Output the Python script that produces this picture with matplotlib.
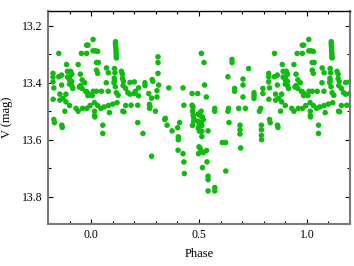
import matplotlib
matplotlib.use("Agg")
import matplotlib.pyplot as plt
import numpy as np
from matplotlib.ticker import MultipleLocator

# Phase-folded observations (phase in [0, 1)), V magnitude
phase = [
    # 0.0 - 0.2
    0.009, 0.985, 0.009, 0.020, 0.030, 0.025, 0.034, 0.025, 0.030, 0.071, 0.080,
    0.113, 0.113, 0.114, 0.115, 0.115, 0.116, 0.116, 0.117,
    0.108, 0.110, 0.107, 0.108, 0.106, 0.112,
    0.140, 0.145, 0.145, 0.150, 0.148, 0.200, 0.205, 0.200,
    0.025, 0.048, 0.079, 0.117, 0.125, 0.010, 0.005,
    0.015, 0.030, 0.045, 0.060, 0.080, 0.100, 0.120, 0.160, 0.185,
    0.016, 0.016, 0.017, 0.085, 0.147, 0.152, 0.054, 0.054,
    0.180, 0.160, 0.170, 0.180, 0.070,
    # 0.2 - 0.45
    0.249, 0.283, 0.286, 0.310, 0.310, 0.310, 0.313, 0.360, 0.426,
    0.220, 0.220, 0.267, 0.305, 0.305, 0.280, 0.216, 0.270, 0.272, 0.271, 0.430,
    0.298, 0.216, 0.240, 0.341, 0.352, 0.375, 0.401, 0.410,
    0.404, 0.404, 0.403, 0.426, 0.430, 0.432, 0.280, 0.250, 0.344,
    # 0.45 - 0.6
    0.468, 0.494, 0.468, 0.472, 0.470, 0.473, 0.475, 0.476, 0.470,
    0.495, 0.495, 0.500, 0.497, 0.502,
    0.498, 0.500, 0.505, 0.510, 0.520, 0.535,
    0.511, 0.523, 0.526, 0.534,
    0.510, 0.505, 0.515, 0.520, 0.510, 0.513, 0.513, 0.513,
    0.537, 0.516, 0.542, 0.542, 0.542, 0.573, 0.573,
    0.573, 0.542, 0.573,
    # 0.6 - 0.8
    0.608, 0.623, 0.624, 0.634, 0.639, 0.690, 0.690, 0.690, 0.693,
    0.789, 0.789, 0.789, 0.790, 0.780,
    0.653, 0.653, 0.730, 0.634, 0.704, 0.704,
    0.665, 0.665, 0.755, 0.755, 0.755, 0.796, 0.796, 0.704,
    0.637, 0.684, 0.715, 0.786,
    # 0.8 - 1.0
    0.827, 0.830, 0.827, 0.823, 0.823, 0.823, 0.850, 0.850, 0.824, 0.855,
    0.979, 0.955, 0.979, 0.886, 0.940, 0.863, 0.863,
    0.890, 0.905, 0.910, 0.900, 0.890,
    0.950, 0.958, 0.950, 0.945, 0.958,
    0.900, 0.910, 0.910, 0.900, 0.915,
    0.979, 0.986, 0.855, 0.883, 0.870, 0.883,
    0.900, 0.930, 0.960, 0.980, 0.995, 0.878, 0.940, 0.864, 0.866,
    0.970, 0.975, 0.985,
]
vmag = [
    # 0.0 - 0.2
    13.248, 13.268, 13.288, 13.288, 13.290, 13.329, 13.329, 13.356, 13.367, 13.348, 13.365,
    13.256, 13.264, 13.273, 13.281, 13.290, 13.298, 13.306, 13.313,
    13.350, 13.365, 13.384, 13.392, 13.400, 13.414,
    13.360, 13.370, 13.385, 13.395, 13.410, 13.397, 13.430, 13.438,
    13.430, 13.430, 13.430, 13.435, 13.444, 13.430, 13.445,
    13.470, 13.480, 13.490, 13.485, 13.480, 13.475, 13.470, 13.480, 13.479,
    13.500, 13.515, 13.520, 13.505, 13.500, 13.502, 13.549, 13.578,
    13.399, 13.420, 13.435, 13.440, 13.400,
    # 0.2 - 0.45
    13.400, 13.389, 13.395, 13.309, 13.329, 13.367, 13.408, 13.418, 13.418,
    13.418, 13.446, 13.438, 13.428, 13.450, 13.454, 13.479, 13.476, 13.483, 13.490, 13.479,
    13.500, 13.540, 13.578, 13.529, 13.549, 13.569, 13.558, 13.540,
    13.590, 13.600, 13.637, 13.649, 13.678, 13.719, 13.658, 13.410, 13.525,
    # 0.45 - 0.6
    13.438, 13.438, 13.479, 13.485, 13.500, 13.515, 13.535, 13.525, 13.550,
    13.510, 13.535, 13.550, 13.560, 13.570,
    13.649, 13.625, 13.630, 13.640, 13.645, 13.638,
    13.297, 13.329, 13.408, 13.450,
    13.500, 13.515, 13.520, 13.530, 13.540, 13.550, 13.570, 13.589,
    13.678, 13.698, 13.728, 13.740, 13.780, 13.768, 13.780,
    13.500, 13.569, 13.490,
    # 0.6 - 0.8
    13.610, 13.610, 13.710, 13.500, 13.540, 13.549, 13.565, 13.580, 13.629,
    13.549, 13.565, 13.585, 13.600, 13.500,
    13.318, 13.329, 13.350, 13.379, 13.387, 13.408,
    13.420, 13.430, 13.435, 13.445, 13.455, 13.420, 13.438, 13.450,
    13.490, 13.490, 13.490, 13.490,
    # 0.8 - 1.0
    13.529, 13.540, 13.418, 13.367, 13.380, 13.397, 13.297, 13.379, 13.458, 13.461,
    13.268, 13.297, 13.297, 13.336, 13.336, 13.373, 13.408,
    13.360, 13.360, 13.370, 13.380, 13.380,
    13.370, 13.390, 13.410, 13.415, 13.420,
    13.390, 13.395, 13.410, 13.405, 13.420,
    13.432, 13.438, 13.440, 13.440, 13.455, 13.467,
    13.480, 13.490, 13.490, 13.490, 13.480, 13.500, 13.500, 13.549, 13.557,
    13.400, 13.430, 13.445,
]

x_ticks = [0.0, 0.5, 1.0]
y_ticks = [13.2, 13.4, 13.6, 13.8]

ph = np.array(phase)
vm = np.array(vmag)
# Show phases -0.2 .. 1.2 by repeating the folded cycle
x_all = np.concatenate([ph - 1, ph, ph + 1])
y_all = np.concatenate([vm, vm, vm])
keep = (x_all >= -0.2) & (x_all <= 1.2)

plt.rcParams['font.family'] = ['Liberation Serif', 'DejaVu Serif']

fig = plt.figure(figsize=(3.54, 2.66), dpi=100)
ax = fig.add_axes([0.1356, 0.159, 0.8531, 0.8008])
ax.scatter(x_all[keep], y_all[keep], s=16, color='#10bb10', edgecolors='none', zorder=3)

ax.set_xlim(-0.2, 1.2)
ax.set_ylim(13.895, 13.147)
ax.set_xticks(x_ticks)
ax.set_xticklabels([f"{t:.1f}" for t in x_ticks])
ax.set_yticks(y_ticks)
ax.set_yticklabels([f"{t:.1f}" for t in y_ticks])
ax.xaxis.set_minor_locator(MultipleLocator(0.1))
ax.yaxis.set_minor_locator(MultipleLocator(0.1))
ax.tick_params(which='both', direction='in', top=True, right=True, labelsize=8.5, pad=4)
ax.tick_params(which='major', length=3.5, width=0.8)
ax.tick_params(which='minor', length=2, width=0.8)

for side in ['left', 'bottom', 'right']:
    ax.spines[side].set_color('#7a7a7a')
    ax.spines[side].set_linewidth(1.5)
ax.spines['top'].set_color('black')
ax.spines['top'].set_linewidth(1.0)

ax.set_xlabel('Phase', fontsize=9, labelpad=5)
ax.set_ylabel('V (mag)', fontsize=9, labelpad=6)

fig.savefig('out.png', dpi=100)
